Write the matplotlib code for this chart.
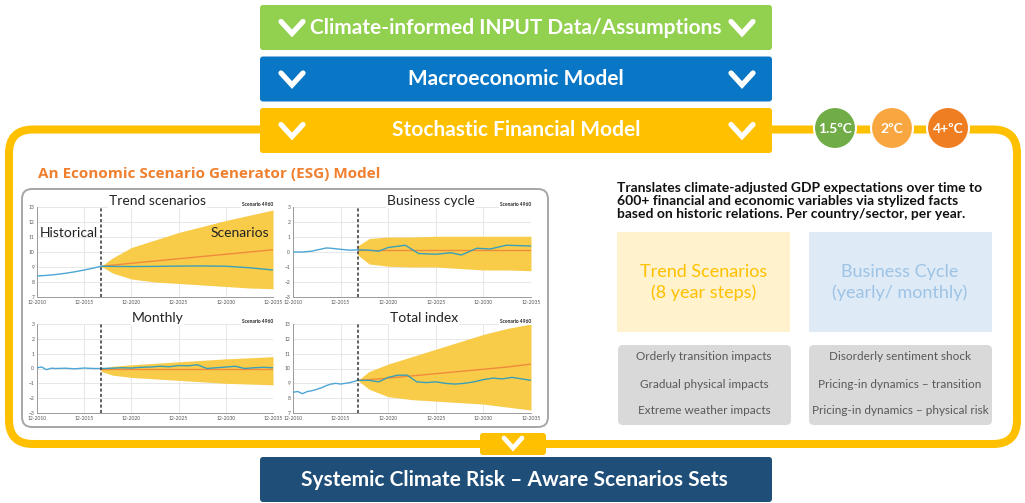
import matplotlib.pyplot as plt
from matplotlib.patches import FancyBboxPatch, Circle

plt.rcParams['font.family'] = ['Lato', 'DejaVu Sans']

# ---- data ----
tick_pos = [0, 5, 10, 15, 20, 25]
tick_labels = ['12-2010', '12-2015', '12-2020', '12-2025', '12-2030', '12-2035']
split_x = 6.8  # start of the simulation (dashed line)

fan_x = [6.8, 8, 10, 12.5, 15, 17.5, 20, 22.5, 25]

# Trend scenarios
trend_hist_x = [0, 1, 2, 3, 4, 5, 6, 6.8]
trend_hist_y = [8.40, 8.44, 8.50, 8.58, 8.68, 8.80, 8.93, 9.05]
trend_upper = [9.05, 9.6, 10.3, 10.8, 11.3, 11.7, 12.1, 12.45, 12.8]
trend_lower = [9.05, 8.6, 8.2, 8.0, 7.9, 7.8, 7.7, 7.6, 7.55]
trend_median = [9.05, 9.12, 9.25, 9.4, 9.55, 9.7, 9.85, 10.0, 10.15]
trend_scen = [9.05, 9.04, 9.03, 9.04, 9.06, 9.07, 9.05, 8.95, 8.80]

# Business cycle
bc_hist_x = [0, 1, 2, 3, 3.5, 4, 5, 6, 6.8]
bc_hist_y = [0.0, 0.0, 0.06, 0.2, 0.27, 0.25, 0.18, 0.12, 0.15]
bc_upper = [0.4, 0.9, 1.0, 1.0, 1.05, 1.05, 1.05, 1.05, 1.05]
bc_lower = [-0.2, -0.8, -0.95, -1.0, -1.0, -1.1, -1.2, -1.2, -1.25]
bc_median = [0.15, 0.15, 0.15, 0.15, 0.15, 0.15, 0.15, 0.15, 0.15]
bc_scen_x = [6.8, 8, 9, 10, 11.8, 13.2, 15, 16.6, 17.7, 19.3, 20.7, 22.4, 25]
bc_scen_y = [0.15, 0.12, 0.05, 0.3, 0.45, -0.1, -0.15, -0.05, -0.2, 0.25, 0.2, 0.45, 0.4]

# Monthly
mon_hist_x = [0, 0.5, 1, 1.5, 2, 3, 4, 5, 6, 6.8]
mon_hist_y = [0.05, 0.1, -0.08, 0.02, 0.0, 0.02, -0.02, 0.03, 0.0, 0.0]
mon_upper = [0.0, 0.15, 0.25, 0.35, 0.45, 0.55, 0.65, 0.72, 0.8]
mon_lower = [-0.2, -0.45, -0.6, -0.7, -0.8, -0.9, -1.0, -1.05, -1.1]
mon_median = [0, 0, 0, 0, 0, 0, 0, 0, 0]
mon_scen_x = [6.8, 8, 9, 10, 11, 12, 13, 14, 15, 16, 17, 18, 19, 20, 21, 22, 23, 24, 25]
mon_scen_y = [0.0, 0.02, 0.05, 0.03, 0.08, 0.1, 0.15, 0.12, 0.2, 0.18, 0.25, 0.0,
              0.05, 0.1, 0.15, 0.0, 0.05, 0.08, 0.05]

# Total index
tot_hist_x = [0, 0.5, 1, 1.5, 2, 2.5, 3, 3.5, 4, 4.5, 5, 5.5, 6, 6.8]
tot_hist_y = [8.4, 8.45, 8.3, 8.45, 8.5, 8.6, 8.7, 8.85, 8.95, 9.0, 8.95, 9.0, 9.05, 9.2]
tot_upper = [9.2, 9.8, 10.3, 10.8, 11.3, 11.8, 12.3, 12.7, 13.0]
tot_lower = [9.2, 8.6, 8.1, 7.9, 7.8, 7.7, 7.6, 7.4, 7.2]
tot_median = [9.2, 9.25, 9.35, 9.5, 9.65, 9.8, 9.95, 10.1, 10.3]
tot_scen_x = [6.8, 8, 9, 10, 11, 12, 13, 14, 15, 16, 17, 18, 19, 20, 21, 22, 23, 24, 25]
tot_scen_y = [9.2, 9.2, 9.1, 9.4, 9.55, 9.55, 9.1, 9.05, 9.1, 9.0, 8.95, 9.0,
              9.1, 9.25, 9.35, 9.3, 9.4, 9.3, 9.2]

banners = ['Climate-informed INPUT Data/Assumptions', 'Macroeconomic Model',
           'Stochastic Financial Model']
banner_colors = ['#92D050', '#0A77C6', '#FFC000']
temps = ['1.5ºC', '2ºC', '4+ºC']
temp_colors = ['#70AD47', '#F8A740', '#EF7D22']
trend_items = ['Orderly transition impacts', 'Gradual physical impacts', 'Extreme weather impacts']
cycle_items = ['Disorderly sentiment shock', 'Pricing-in dynamics – transition',
               'Pricing-in dynamics – physical risk']

W, H = 1025, 503
fig = plt.figure(figsize=(W / 100, H / 100), dpi=100)
bg = fig.add_axes([0, 0, 1, 1])
bg.set_xlim(0, W)
bg.set_ylim(H, 0)
bg.axis('off')

YEL = '#FFC000'


def chevron(cx, cy, w=11, h=6, lw=3.8):
    bg.plot([cx - w, cx, cx + w], [cy - h, cy + h, cy - h], color='white', lw=lw,
            solid_capstyle='round', solid_joinstyle='miter', zorder=5)


def box(x0, y0, x1, y1, fc, ec='none', r=3, lw=0, z=2):
    p = FancyBboxPatch((x0, y0), x1 - x0, y1 - y0,
                       boxstyle=f'round,pad=0,rounding_size={r}',
                       fc=fc, ec=ec, lw=lw, zorder=z)
    bg.add_patch(p)


# big yellow frame
bg.add_patch(FancyBboxPatch((9, 129.5), 1008, 314.5, boxstyle='round,pad=0,rounding_size=24',
                            fc='none', ec=YEL, lw=5.8, zorder=1))

# top banners
for i, (txt, col) in enumerate(zip(banners, banner_colors)):
    y0 = 5 + i * 51.5
    box(260, y0, 772, y0 + 45, col)
    cy = y0 + 22.5
    bg.text(516, cy, txt, color='white', fontsize=15, fontweight='bold',
            ha='center', va='center', zorder=5)
    chevron(292, cy)
    chevron(742, cy)

# temperature circles
for cx, t, c in zip([835, 892, 948], temps, temp_colors):
    bg.add_patch(Circle((cx, 128), 21, fc=c, ec='white', lw=1.5, zorder=4))
    bg.text(cx, 129, t, color='white', fontsize=10, fontweight='bold',
            ha='center', va='center', zorder=5)

# ESG title
bg.text(38, 174, 'An Economic Scenario Generator (ESG) Model', color='#F07F2E',
        fontsize=11, fontweight='bold', family=['Open Sans', 'DejaVu Sans'],
        ha='left', va='center')

# grey chart frame
box(22, 189, 548, 427, 'white', ec='#A6A6A6', r=10, lw=1.4, z=2)

# right side text
bg.text(617, 201, 'Translates climate-adjusted GDP expectations over time to\n'
        '600+ financial and economic variables via stylized facts\n'
        'based on historic relations. Per country/sector, per year.',
        fontsize=10, fontweight='bold', color='#111111', ha='left', va='center',
        linespacing=1.12)

box(617, 232, 790, 332, '#FFF2CC', r=0)
box(809, 232, 992, 332, '#DEEBF7', r=0)
bg.text(704, 272, 'Trend Scenarios', color=YEL, fontsize=13, ha='center', va='center')
bg.text(704, 293, '(8 year steps)', color=YEL, fontsize=13, ha='center', va='center')
bg.text(900, 272, 'Business Cycle', color='#9DC3E6', fontsize=13, ha='center', va='center')
bg.text(900, 293, '(yearly/ monthly)', color='#9DC3E6', fontsize=13, ha='center', va='center')

box(618, 345, 791, 425, '#D9D9D9', r=5)
box(809, 345, 992, 425, '#D9D9D9', r=5)
for yy, a, b in zip([357, 384, 411], trend_items, cycle_items):
    bg.text(704, yy, a, color='#595959', fontsize=8.5, ha='center', va='center')
    bg.text(900, yy, b, color='#595959', fontsize=8.5, ha='center', va='center')

# bottom connector and banner
box(480, 433, 546, 455, YEL, r=3)
chevron(513, 443, w=9, h=5, lw=3.4)
box(260, 457, 772, 502, '#1F4E79')
bg.text(514, 480, 'Systemic Climate Risk – Aware Scenarios Sets', color='white',
        fontsize=15, fontweight='bold', ha='center', va='center', zorder=5)


# ---- the four small charts ----
def panel(x0, y0, x1, y1, title, tx, ylim, hist_x, hist_y, upper, lower, median, sx, sy):
    ax = fig.add_axes([x0 / W, 1 - y1 / H, (x1 - x0) / W, (y1 - y0) / H])
    ax.set_facecolor('none')
    ax.fill_between(fan_x, lower, upper, color='#F8CC48', lw=0, zorder=2)
    ax.plot(fan_x, median, color='#F08A3C', lw=1.0, zorder=3)
    ax.plot(sx, sy, color='#3A9FB8', lw=1.0, zorder=4)
    ax.plot(hist_x, hist_y, color='#4DA6D6', lw=1.0, zorder=4)
    ax.axvline(split_x, color='#333333', lw=1.1, ls=(0, (2, 1.5)), zorder=5)
    ax.set_xlim(0, 25)
    ax.set_ylim(*ylim)
    ax.set_xticks(tick_pos)
    ax.set_xticklabels(tick_labels)
    ax.set_yticks(range(ylim[0], ylim[1] + 1))
    ax.tick_params(labelsize=3.6, colors='#555555', length=0, pad=2)
    ax.grid(color='#E3E3E3', lw=0.6)
    ax.set_axisbelow(True)
    for s in ['top', 'right']:
        ax.spines[s].set_visible(False)
    for s in ['left', 'bottom']:
        ax.spines[s].set_color('#9A9A9A')
        ax.spines[s].set_linewidth(0.7)
    ax.text(tx, 1.065, title, transform=ax.transAxes, fontsize=10, color='#222222',
            ha='center', va='center', bbox=dict(fc='white', ec='none', pad=0.5))
    ax.text(1.0, 1.0, 'Scenario 4960', transform=ax.transAxes, fontsize=3.5,
            fontweight='bold', color='#222222', ha='right', va='bottom',
            bbox=dict(fc='white', ec='none', pad=0.5))
    return ax


ax1 = panel(37, 207, 273, 297, 'Trend scenarios', 0.51, (7, 13),
            trend_hist_x, trend_hist_y, trend_upper, trend_lower, trend_median,
            fan_x, trend_scen)
ax1.text(0.01, 0.71, 'Historical', transform=ax1.transAxes, fontsize=10,
         color='#222222', ha='left', va='center', zorder=6)
ax1.text(0.985, 0.71, 'Scenarios', transform=ax1.transAxes, fontsize=10,
         color='#222222', ha='right', va='center', zorder=6)

panel(293, 207, 531, 297, 'Business cycle', 0.58, (-3, 3),
      bc_hist_x, bc_hist_y, bc_upper, bc_lower, bc_median, bc_scen_x, bc_scen_y)
panel(37, 324, 273, 413, 'Monthly', 0.51, (-3, 3),
      mon_hist_x, mon_hist_y, mon_upper, mon_lower, mon_median, mon_scen_x, mon_scen_y)
panel(293, 324, 531, 413, 'Total index', 0.55, (7, 13),
      tot_hist_x, tot_hist_y, tot_upper, tot_lower, tot_median, tot_scen_x, tot_scen_y)

fig.savefig('out.png', dpi=100)
